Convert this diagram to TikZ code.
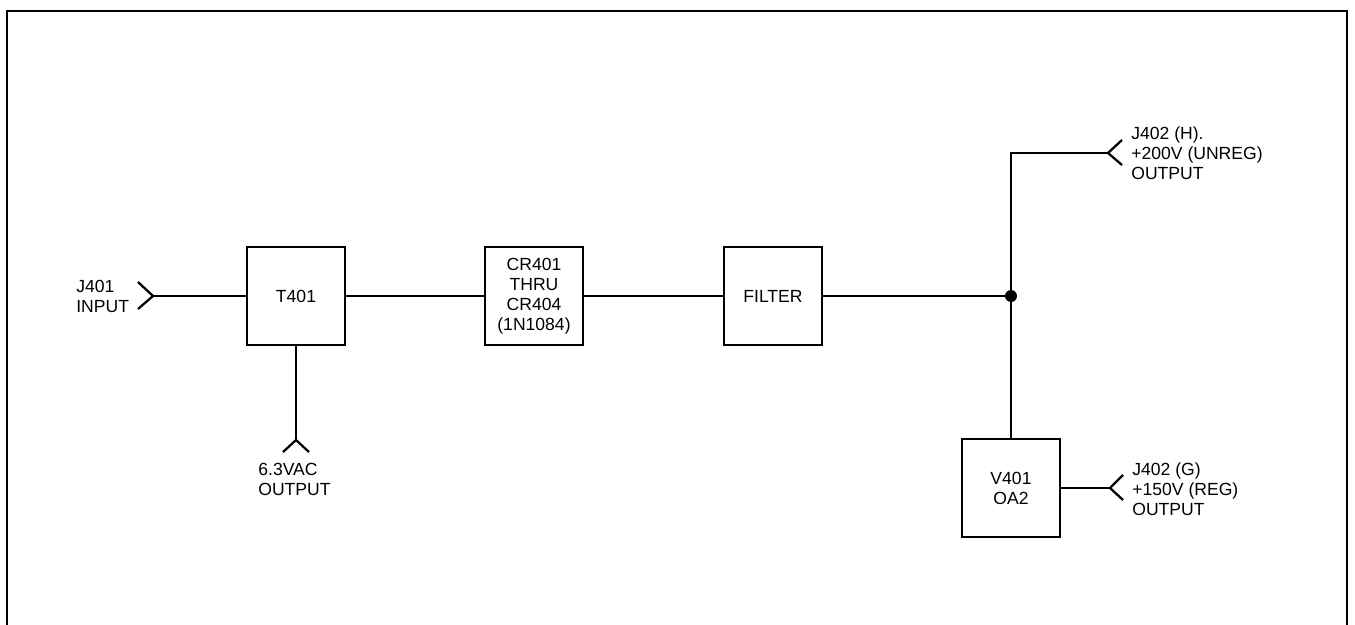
\documentclass[tikz,border=0pt]{standalone}
\usepackage{fontspec}
\setmainfont{Liberation Sans}
\usetikzlibrary{positioning}

\begin{document}
\begin{tikzpicture}[x=0.02cm,y=-0.02cm,
  block/.style={draw,line width=1.6pt,minimum width=1.96cm,minimum height=1.96cm,
    align=center,inner sep=0pt,font=\fontsize{10}{11.4}\selectfont},
  lbl/.style={anchor=west,align=left,inner sep=0pt,font=\fontsize{10}{11.4}\selectfont},
  wire/.style={line width=1.3pt},
  dot/.style={circle,fill,inner sep=0pt,minimum size=0.24cm}]
  \useasboundingbox (0,0) rectangle (1355,625);
  % open frame
  \draw[line width=1.6pt] (7,625) -- (7,11) -- (1347,11) -- (1347,625);
  % blocks
  \node[block] (T401) at (296,296) {T401};
  \node[block] (CR) at (534,296) {CR401\\THRU\\CR404\\(1N1084)};
  \node[block] (filter) at (773,296) {FILTER};
  \node[block] (V401) at (1011,488) {V401\\OA2};
  \node[dot] (jn) at (1011,296) {};
  % jacks
  \coordinate (jin) at (153,296);
  \coordinate (acout) at (296,440);
  \coordinate (hout) at (1108,153);
  \coordinate (gout) at (1110,488);
  % wiring
  \draw[wire] (jin) -- (T401);
  \draw[wire] (T401) -- (CR);
  \draw[wire] (CR) -- (filter);
  \draw[wire] (filter) -- (jn);
  \draw[wire] (V401.north) |- (hout);
  \draw[wire] (V401) -- (gout);
  \draw[wire] (T401) -- (acout);
  \draw[wire] (jin) ++(-15,-14) -- (jin) -- ++(-15,13);
  \draw[wire] (acout) ++(-13,12) -- (acout) -- ++(13,12);
  \draw[wire] (hout) ++(14,-13) -- (hout) -- ++(14,12);
  \draw[wire] (gout) ++(13,-13) -- (gout) -- ++(13,12);
  % labels
  \node[lbl] (jinlbl) at (76,296) {J401\\INPUT};
  \node[lbl] (aclbl) at (258,479) {6.3VAC\\OUTPUT};
  \node[lbl] (hlbl) at (1131,153) {J402 (H).\\+200V (UNREG)\\OUTPUT};
  \node[lbl] (glbl) at (1132,489) {J402 (G)\\+150V (REG)\\OUTPUT};
\end{tikzpicture}
\end{document}
